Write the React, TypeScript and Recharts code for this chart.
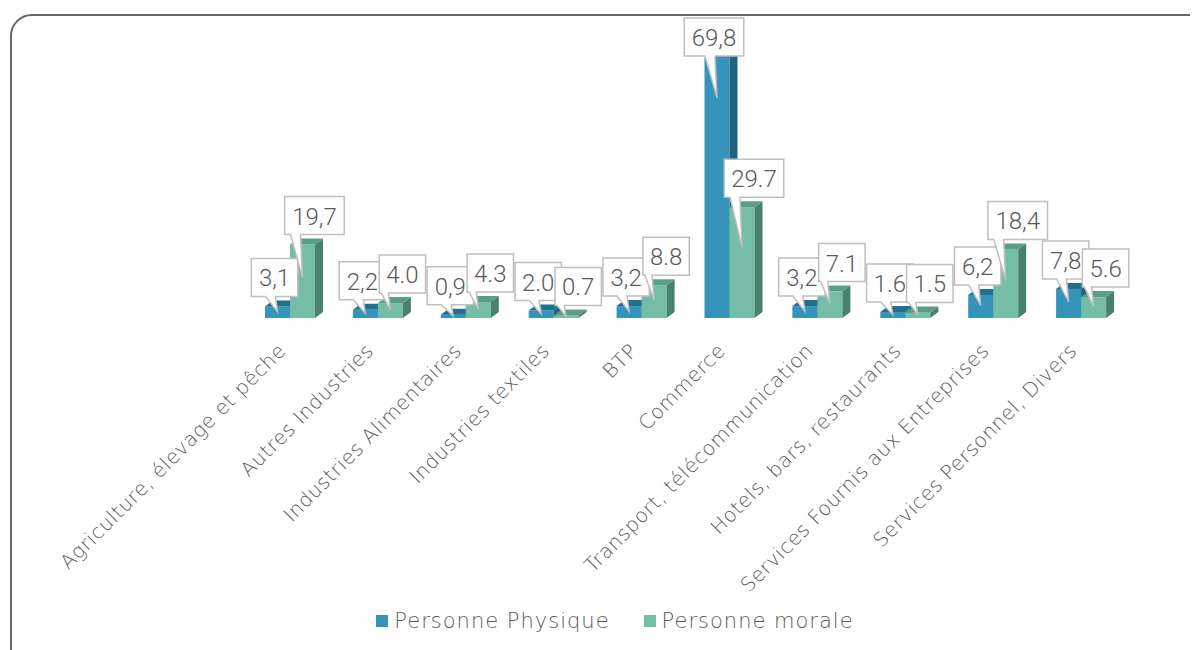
import React from "react";
import { BarChart, Bar, XAxis, YAxis, Legend, LabelList } from "recharts";

const categories = [
  "Agriculture, élevage et pêche",
  "Autres Industries",
  "Industries Alimentaires",
  "Industries textiles",
  "BTP",
  "Commerce",
  "Transport, télécommunication",
  "Hotels, bars, restaurants",
  "Services Fournis aux Entreprises",
  "Services Personnel, Divers",
];
const physiqueValues = [3.1, 2.2, 0.9, 2.0, 3.2, 69.8, 3.2, 1.6, 6.2, 7.8];
const moraleValues = [19.7, 4.0, 4.3, 0.7, 8.8, 29.7, 7.1, 1.5, 18.4, 5.6];
const physiqueLabels = ["3,1", "2,2", "0,9", "2.0", "3,2", "69,8", "3,2", "1.6", "6,2", "7,8"];
const moraleLabels = ["19,7", "4.0", "4.3", "0.7", "8.8", "29.7", "7.1", "1.5", "18,4", "5.6"];
const seriesNames = ["Personne Physique", "Personne morale"];

const data = categories.map((c, i) => ({
  name: c,
  physique: physiqueValues[i],
  morale: moraleValues[i],
}));

const PHYS = { front: "#3494BA", top: "#236F8E", side: "#1F6380" };
const MOR = { front: "#75BDA7", top: "#5A9E88", side: "#4A816E" };

const make3D = (colors: any) => (props: any) => {
  const { x, y, width, height } = props;
  if (width == null || height == null) return null;
  const dx = 8;
  const dy = 6;
  const top = `${x},${y} ${x + dx},${y - dy} ${x + width + dx},${y - dy} ${x + width},${y}`;
  const side = `${x + width},${y} ${x + width + dx},${y - dy} ${x + width + dx},${y + height - dy} ${x + width},${y + height}`;
  return (
    <g>
      <rect x={x} y={y} width={width} height={height} fill={colors.front} />
      <polygon points={top} fill={colors.top} />
      <polygon points={side} fill={colors.side} />
    </g>
  );
};

const textWidth = (s: string) => {
  let w = 0;
  for (const ch of s) {
    if (ch === "," || ch === ".") w += 6;
    else w += 13.2;
  }
  return w;
};

const makeCallout = (labels: string[], shift: number) => (props: any) => {
  const { x, y, width, height, index } = props;
  const text = labels[index];
  const bx = x + width / 2;
  const tipX = bx;
  const tipY = y + Math.min(40, height * 0.45);
  const w = textWidth(text) + 14;
  const h = 38;
  const cx = bx + shift;
  let bottom = y - 10;
  if (bottom - h < 10) bottom = 10 + h;
  const left = cx - w / 2;
  const right = cx + w / 2;
  const topY = bottom - h;
  let b1 = Math.max(left + 2, tipX - 12);
  let b2 = Math.min(right - 2, tipX - 2);
  if (b2 < b1 + 6) b2 = b1 + 6;
  const d = `M${left},${topY} L${right},${topY} L${right},${bottom} L${b2},${bottom} L${tipX},${tipY} L${b1},${bottom} L${left},${bottom} Z`;
  return (
    <g>
      <path d={d} fill="#ffffff" stroke="#BFBFBF" strokeWidth={1.5} />
      <text
        x={cx}
        y={bottom - 10}
        textAnchor="middle"
        fontFamily="Roboto, sans-serif"
        fontWeight={300}
        fontSize={24}
        fill="#595959"
      >
        {text}
      </text>
    </g>
  );
};

const AxisTick = (props: any) => {
  const { x, y, payload } = props;
  return (
    <g transform={`translate(${x - 3},${y + 26})`}>
      <text
        x={0}
        y={0}
        textAnchor="end"
        transform="rotate(-45)"
        fontFamily="DejaVu Sans, sans-serif"
        fontWeight={200}
        fontSize={20}
        letterSpacing={0.5}
        fill="#595959"
      >
        {payload.value}
      </text>
    </g>
  );
};

const LegendContent = () => (
  <div
    style={{
      display: "flex",
      justifyContent: "center",
      alignItems: "center",
      height: 30,
      paddingLeft: 24,
      fontFamily: "DejaVu Sans, sans-serif",
      fontWeight: 200,
      fontSize: 21,
      letterSpacing: 1,
      color: "#595959",
    }}
  >
    <span style={{ display: "inline-block", width: 12, height: 12, background: PHYS.front, marginRight: 6 }} />
    <span style={{ marginRight: 34 }}>{seriesNames[0]}</span>
    <span style={{ display: "inline-block", width: 12, height: 12, background: MOR.front, marginRight: 6 }} />
    <span>{seriesNames[1]}</span>
  </div>
);

export default function App() {
  return (
    <div style={{ position: "relative", width: 1190, height: 642, overflow: "hidden" }}>
      <div
        style={{
          position: "absolute",
          left: 2,
          top: 6,
          width: 1250,
          height: 720,
          border: "2.5px solid #5F6B6B",
          borderRadius: 22,
          boxSizing: "border-box",
        }}
      />
      <div style={{ position: "absolute", left: 0, top: 0 }}>
        <BarChart
          width={1190}
          height={642}
          data={data}
          margin={{ top: 49, right: 73, left: 238, bottom: 14 }}
          barSize={25}
          barGap={0}
        >
          <XAxis
            dataKey="name"
            height={288}
            axisLine={false}
            tickLine={false}
            interval={0}
            tick={<AxisTick />}
          />
          <YAxis hide domain={[0, 70]} />
          <Legend
            verticalAlign="bottom"
            content={<LegendContent />}
            wrapperStyle={{ top: 598, left: 0, width: 1190, height: 30 }}
          />
          <Bar dataKey="physique" name={seriesNames[0]} fill={PHYS.front} shape={make3D(PHYS)} isAnimationActive={false}>
            <LabelList dataKey="physique" content={makeCallout(physiqueLabels, -3)} />
          </Bar>
          <Bar dataKey="morale" name={seriesNames[1]} fill={MOR.front} shape={make3D(MOR)} isAnimationActive={false}>
            <LabelList dataKey="morale" content={makeCallout(moraleLabels, 12)} />
          </Bar>
        </BarChart>
      </div>
    </div>
  );
}
